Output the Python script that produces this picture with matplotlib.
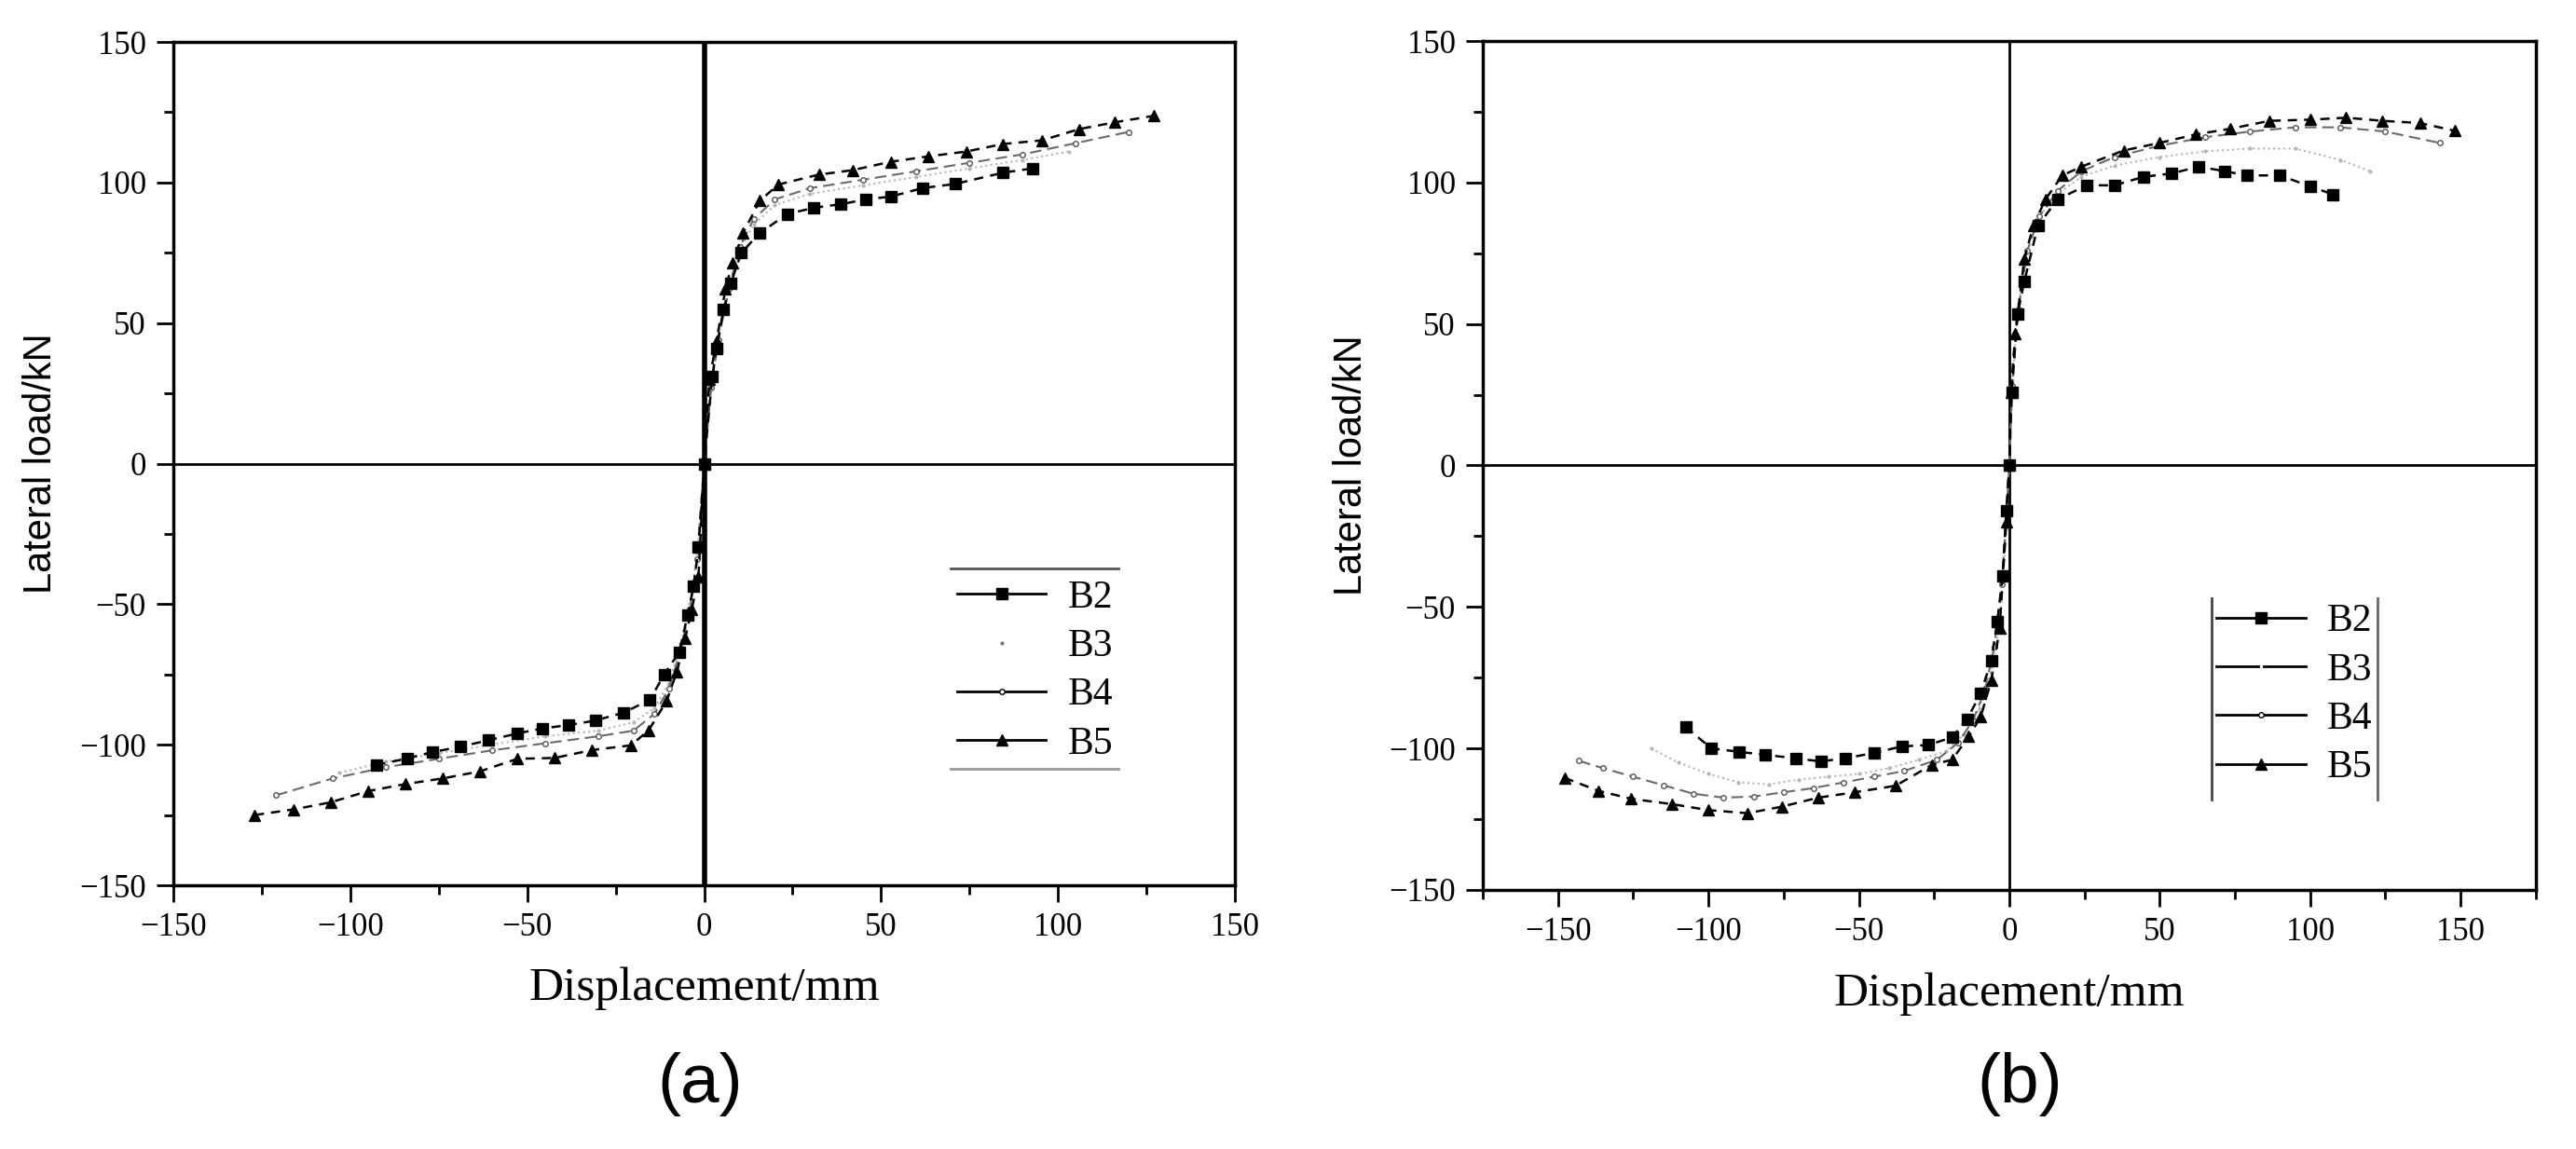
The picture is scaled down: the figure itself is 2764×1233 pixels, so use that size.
import matplotlib
matplotlib.use("Agg")
import matplotlib.pyplot as plt
from matplotlib.lines import Line2D
from matplotlib.ticker import MultipleLocator

# ---- panel (a) ----
b2_a_x = [-92.7, -84, -76.8, -68.8, -61, -52.8, -45.8, -38.3, -30.8, -22.8, -15.3, -11.3, -7, -4.7, -3, -1.6,
          0, 2.3, 3.5, 5.5, 7.5, 10.5, 15.7, 23.5, 31, 38.7, 45.8, 52.8, 61.7, 71, 84.5, 92.7]
b2_a_y = [-107.2, -104.9, -102.6, -100.7, -98.4, -96, -94.2, -93, -91.4, -88.6, -84, -75, -67, -54, -43.7, -29.8,
          0, 31, 41, 55, 64, 75, 82, 88.8, 91, 92.3, 94, 95, 98, 99.5, 103.5, 105]
b3_a_x = [-103, -90, -75, -60, -45, -30, -20, -14, -10, -7, -4, -2,
          0, 2, 4, 7, 10, 14, 20, 30, 45, 60, 75, 90, 103]
b3_a_y = [-110, -106, -103, -100, -97, -95, -92, -87, -78, -66, -50, -32,
          0, 28, 45, 63, 76, 85, 92, 96, 99, 102, 105, 108, 111]
b4_a_x = [-121, -105, -90, -75, -60, -45, -30, -20, -14, -10, -7, -4, -2,
          0, 2, 4, 7, 10, 14, 20, 30, 45, 60, 75, 90, 105, 120]
b4_a_y = [-118, -112, -108, -105, -102, -99.5, -97, -95, -89, -80, -68, -52, -34,
          0, 27, 44, 62, 77, 87, 94, 98, 101, 104, 107, 110, 114, 118]
b5_a_x = [-127, -116, -105.6, -95, -84.5, -74, -63.4, -52.8, -42.3, -31.7, -20.7, -15.7, -10.6, -7.7, -5.4, -3.5, -1.6,
          0, 1.5, 3.5, 6, 8, 11, 15.7, 21, 32.4, 42, 52.8, 63.4, 74, 84.5, 95.5, 106, 116, 127]
b5_a_y = [-125, -123, -120.5, -116.5, -114, -112, -109.5, -105, -104.7, -101.9, -100.2, -94.9, -84.4, -74, -62.3, -51.9, -40.2,
          0, 30, 43.5, 62, 71.4, 82, 93.5, 99.3, 102.8, 104.4, 107.4, 109.3, 111, 113.7, 115, 119, 121.4, 123.7]

# ---- panel (b) ----
b2_b_x = [-107.6, -99, -89.7, -81, -70.8, -62.7, -54.6, -45, -35.7, -27, -19, -14, -9.5, -6, -4, -2.2, -1,
          0, 0.8, 2.7, 5, 9.5, 16, 25.7, 35, 44.6, 54, 63, 71.6, 79, 90, 100, 107.6]
b2_b_y = [-92.4, -100, -101.2, -102.3, -103.5, -104.6, -103.5, -101.6, -99.3, -98.8, -96.1, -89.6, -80.6, -69, -55.3, -39, -16,
          0, 25.7, 53.5, 65, 84.7, 94, 99, 99, 102, 103.2, 105.6, 104, 102.5, 102.5, 98.6, 95.8]
b3_b_x = [-119, -110, -100, -90, -80, -70, -60, -50, -40, -30, -21, -15, -10, -6, -3, -1,
          0, 1, 3, 6, 10, 16, 24, 35, 50, 65, 80, 95, 110, 120]
b3_b_y = [-100, -105, -109, -112, -112.7, -111, -110, -109, -107, -104, -101, -95, -86, -73, -55, -22,
          0, 30, 57, 76, 88, 96, 102, 106, 109, 111, 112, 112, 108, 104]
b4_b_x = [-143, -135, -125, -115, -105, -95, -85, -75, -65, -55, -45, -35, -24, -17, -12, -8, -5, -2.5, -0.8,
          0, 1, 3, 6, 10, 16, 24, 35, 50, 65, 80, 95, 110, 125, 143]
b4_b_y = [-104.4, -107, -110, -113, -116, -117.4, -117, -115.5, -114, -112, -110, -108, -104, -98, -90, -79, -64, -42, -15,
          0, 28, 55, 76, 88, 97, 104, 109, 113, 116, 118, 119.5, 119.5, 118, 114]
b5_b_x = [-147.8, -136.5, -125.7, -112, -100, -87, -75.7, -63.5, -51.4, -37.8, -25.7, -19, -13.5, -9.5, -6, -3.2, -1,
          0, 0.5, 2, 5, 8, 12, 17.6, 24, 38, 50, 62, 73.5, 86.5, 100, 112, 124, 136.5, 148]
b5_b_y = [-110.4, -115, -117.8, -119.7, -121.8, -122.9, -120.6, -117.4, -115.5, -113.2, -105.8, -104, -95.8, -88.9, -76, -57.6, -20,
          0, 25.7, 46.5, 73, 84.7, 94, 102.5, 105.6, 111.3, 114, 117, 119, 121.8, 122.2, 122.9, 121.8, 121, 118.3]

labels = ['B2', 'B3', 'B4', 'B5']
xticks = [-150, -100, -50, 0, 50, 100, 150]
yticks = [-150, -100, -50, 0, 50, 100, 150]

SERIF = 'Liberation Serif'
SANS = 'Liberation Sans'


def plotPanel(ax, data, xlim, vlw, b3_handle):
    b2, b3, b4, b5 = data
    ax.axhline(0, color='black', lw=2.0, zorder=1)
    ax.axvline(0, color='black', lw=vlw, zorder=1)
    ax.plot(b3[0], b3[1], color='#b5b5b5', lw=1.5, ls=':', marker='.', ms=4, zorder=2)
    ax.plot(b4[0], b4[1], color='#6a6a6a', lw=1.5, ls=(0, (6, 3)), marker='o', ms=4,
            mfc='white', mec='#555555', zorder=3)
    ax.plot(b2[0], b2[1], color='black', lw=1.8, ls=(0, (4, 3)), marker='s', ms=8, zorder=4)
    ax.plot(b5[0], b5[1], color='black', lw=1.8, ls=(0, (4, 3)), marker='^', ms=9, zorder=5)

    ax.set_xlim(xlim)
    ax.set_ylim(-150, 150)
    ax.set_xticks(xticks)
    ax.set_yticks(yticks)
    ax.xaxis.set_minor_locator(MultipleLocator(25))
    ax.yaxis.set_minor_locator(MultipleLocator(25))
    ax.tick_params(which='major', direction='out', length=13, width=2, labelsize=25, pad=8,
                   top=False, right=False)
    ax.tick_params(which='minor', direction='out', length=7, width=2, top=False, right=False)
    for lab in ax.get_xticklabels() + ax.get_yticklabels():
        lab.set_fontfamily(SERIF)
    for s in ax.spines.values():
        s.set_linewidth(2.5)

    ax.set_xlabel('Displacement/mm', fontsize=37, fontfamily=SERIF)
    ax.set_ylabel('Lateral load/kN', fontsize=30, fontfamily=SANS)
    ax.xaxis.set_label_coords(0.5, -0.097)
    ax.yaxis.set_label_coords(-0.107, 0.5)

    handles = [
        Line2D([], [], color='black', lw=2, marker='s', ms=9),
        b3_handle,
        Line2D([], [], color='black', lw=2, marker='o', ms=4, mfc='white', mec='black'),
        Line2D([], [], color='black', lw=2, marker='^', ms=9),
    ]
    return handles


fig = plt.figure(figsize=(27.64, 12.33), dpi=100)
ax1 = fig.add_axes([0.0673, 0.2295, 0.4121, 0.7340])
ax2 = fig.add_axes([0.5756, 0.2255, 0.4088, 0.7388])

h1 = plotPanel(ax1, [(b2_a_x, b2_a_y), (b3_a_x, b3_a_y), (b4_a_x, b4_a_y), (b5_a_x, b5_a_y)],
               (-150, 150), 4.0,
               Line2D([], [], color='none', marker='.', ms=4, mfc='#777777', mec='#777777'))
h2 = plotPanel(ax2, [(b2_b_x, b2_b_y), (b3_b_x, b3_b_y), (b4_b_x, b4_b_y), (b5_b_x, b5_b_y)],
               (-175, 175), 2.0,
               Line2D([], [], color='black', lw=2, marker='.', ms=3, mfc='white', mec='white'))

leg1 = ax1.legend(h1, labels, loc='upper left', bbox_to_anchor=(0.738, 0.362), frameon=False,
                  borderpad=0, borderaxespad=0, handlelength=2.3, handletextpad=0.55,
                  labelspacing=0.33, prop={'family': SERIF, 'size': 30})
ax1.plot([0.732, 0.890], [0.3757, 0.3757], transform=ax1.transAxes, color='#555555', lw=2, clip_on=False)
ax1.plot([0.732, 0.890], [0.138, 0.138], transform=ax1.transAxes, color='#999999', lw=2, clip_on=False)

leg2 = ax2.legend(h2, labels, loc='upper left', bbox_to_anchor=(0.6965, 0.337), frameon=False,
                  borderpad=0, borderaxespad=0, handlelength=2.3, handletextpad=0.55,
                  labelspacing=0.33, prop={'family': SERIF, 'size': 30})
ax2.plot([0.692, 0.692], [0.1065, 0.3436], transform=ax2.transAxes, color='#444444', lw=2, clip_on=False)
ax2.plot([0.850, 0.850], [0.1065, 0.3436], transform=ax2.transAxes, color='#666666', lw=2, clip_on=False)

fig.text(751 / 2764, 1 - 1163 / 1233, '(a)', fontsize=54, fontfamily=SANS, ha='center', va='center')
fig.text(2167 / 2764, 1 - 1163 / 1233, '(b)', fontsize=54, fontfamily=SANS, ha='center', va='center')

fig.savefig('out.png', dpi=100, facecolor='white')
